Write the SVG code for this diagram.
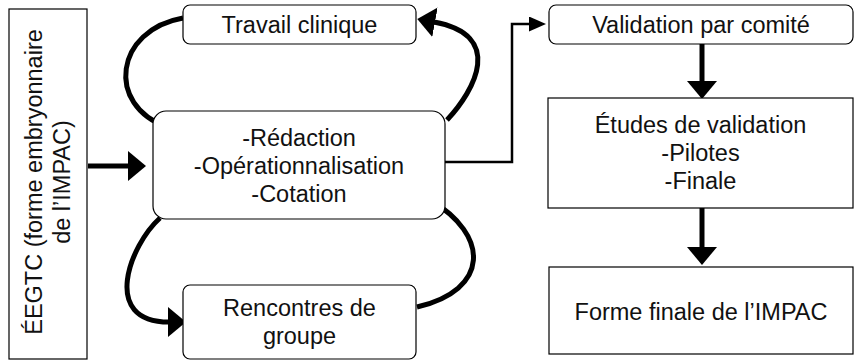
<svg xmlns="http://www.w3.org/2000/svg" width="854" height="360" viewBox="0 0 854 360">
<defs>
<style>
.box{fill:#fff;stroke:#000;stroke-width:1.2}
.t{font-family:"Liberation Sans",Arial,sans-serif;font-size:23.5px;fill:#111;text-anchor:middle}
.thick{fill:none;stroke:#000;stroke-width:5}
.thin{fill:none;stroke:#000;stroke-width:2.5}
</style>
<marker id="big" viewBox="0 0 18 30" refX="1" refY="15" markerWidth="18" markerHeight="30" markerUnits="userSpaceOnUse" orient="auto"><path d="M0,0 L18,15 L0,30 Z" fill="#000"/></marker>
<marker id="small" viewBox="0 0 17 15" refX="1" refY="7.5" markerWidth="17" markerHeight="15" markerUnits="userSpaceOnUse" orient="auto"><path d="M0,0 L17,7.5 L0,15 Z" fill="#000"/></marker>
</defs>
<g id="connectors">
<path class="thick" d="M88,166 H129" marker-end="url(#big)"/>
<path class="thick" d="M183,18 C115,30 105,105 167,127" marker-end="url(#big)"/>
<path class="thick" d="M447,120 C475,90 505,35 434,22" marker-end="url(#big)"/>
<path class="thick" d="M160,218 C130,245 100,322 169,322" marker-end="url(#big)"/>
<path class="thick" d="M417,307 C490,290 490,235 430,200" marker-end="url(#big)"/>
<path class="thin" d="M440,162 H512 V24 H530" marker-end="url(#small)"/>
<path class="thick" d="M702,44 V82" marker-end="url(#big)"/>
<path class="thick" d="M702,208 V248" marker-end="url(#big)"/>
</g>
<g id="egtc">
<rect class="box" x="9" y="9" width="78" height="350"/>
<text class="t" transform="translate(42,182) rotate(-90)">ÉEGTC (forme embryonnaire</text>
<text class="t" transform="translate(70,182) rotate(-90)">de l’IMPAC)</text>
</g>
<g id="travail">
<rect class="box" x="183" y="5" width="233" height="39" rx="7"/>
<text class="t" x="299.5" y="33">Travail clinique</text>
</g>
<g id="redaction">
<rect class="box" x="153" y="111" width="292" height="108" rx="13"/>
<text class="t" x="299" y="146">-Rédaction</text>
<text class="t" x="299" y="174">-Opérationnalisation</text>
<text class="t" x="299" y="202">-Cotation</text>
</g>
<g id="rencontres">
<rect class="box" x="183" y="285" width="233" height="74" rx="7"/>
<text class="t" x="299.5" y="316">Rencontres de</text>
<text class="t" x="299.5" y="344">groupe</text>
</g>
<g id="validation">
<rect class="box" x="549" y="5" width="304" height="39" rx="7"/>
<text class="t" x="701" y="33">Validation par comité</text>
</g>
<g id="etudes">
<rect class="box" x="548" y="98" width="305" height="110"/>
<text class="t" x="700.5" y="133">Études de validation</text>
<text class="t" x="700.5" y="161">-Pilotes</text>
<text class="t" x="700.5" y="189">-Finale</text>
</g>
<g id="forme">
<rect class="box" x="549" y="267" width="304" height="87"/>
<text class="t" x="701" y="320">Forme finale de l’IMPAC</text>
</g>
</svg>
